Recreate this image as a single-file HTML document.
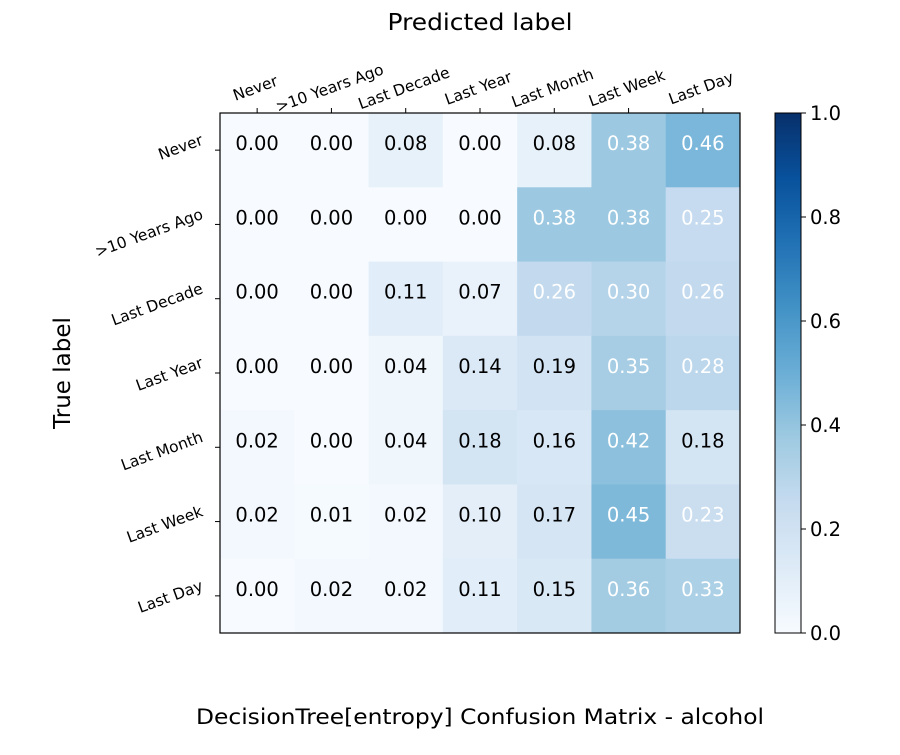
<!DOCTYPE html>
<html><head><meta charset="utf-8"><style>
body{margin:0;background:#fff;}
svg text{font-family:"DejaVu Sans","Liberation Sans",sans-serif;}
</style></head><body>
<svg id="chart" width="900" height="750" xmlns="http://www.w3.org/2000/svg"></svg>
<script>
const labels=["Never",">10 Years Ago","Last Decade","Last Year","Last Month","Last Week","Last Day"];
const row0=[0.00,0.00,0.08,0.00,0.08,0.38,0.46];
const row1=[0.00,0.00,0.00,0.00,0.38,0.38,0.25];
const row2=[0.00,0.00,0.11,0.07,0.26,0.30,0.26];
const row3=[0.00,0.00,0.04,0.14,0.19,0.35,0.28];
const row4=[0.02,0.00,0.04,0.18,0.16,0.42,0.18];
const row5=[0.02,0.01,0.02,0.10,0.17,0.45,0.23];
const row6=[0.00,0.02,0.02,0.11,0.15,0.36,0.33];
const matrix=[row0,row1,row2,row3,row4,row5,row6];
const cbTicks=[0.0,0.2,0.4,0.6,0.8,1.0];

const NS="http://www.w3.org/2000/svg";
const svg=document.getElementById('chart');
const X0=220,Y0=113,W=520,H=520,n=labels.length,cw=W/n,ch=H/n;
const xs=i=>X0+i*cw, ys=j=>Y0+j*ch;
const stops=["#f7fbff","#deebf7","#c6dbef","#9ecae1","#6baed6","#4292c6","#2171b5","#08519c","#08306b"];
function hx(c){return [1,3,5].map(k=>parseInt(c.substr(k,2),16));}
function cmap(v){v=Math.max(0,Math.min(1,v));const p=v*8,i=Math.min(7,Math.floor(p)),t=p-i;const a=hx(stops[i]),b=hx(stops[i+1]);return "rgb("+a.map((x,k)=>Math.round(x+(b[k]-x)*t)).join(",")+")";}
function el(tag,attrs,txt){const e=document.createElementNS(NS,tag);for(const k in attrs)e.setAttribute(k,attrs[k]);if(txt!==undefined)e.textContent=txt;svg.appendChild(e);return e;}
const thresh=0.2;
matrix.forEach((row,j)=>row.forEach((v,i)=>{
 const r=el('rect',{x:xs(i),y:ys(j),width:cw+0.5,height:ch+0.5,fill:cmap(v)});
 
 
 const t=el('text',{x:xs(i)+cw/2,y:ys(j)+ch/2,'text-anchor':'middle','font-size':'19.5',fill:v>thresh?'#fff':'#000'},v.toFixed(2));
 
 
}));
const fr=el('rect',{x:X0,y:Y0,width:W,height:H,fill:'none',stroke:'#000','stroke-width':1.2});


labels.forEach((l,i)=>{
 const cx=xs(i)+cw/2;
 el('line',{x1:cx,y1:Y0,x2:cx,y2:Y0-5,stroke:'#000'});
 const t=el('text',{x:0,y:0,'text-anchor':'middle','font-size':'15.5',transform:`translate(${cx},${Y0-20}) rotate(-20)`},l);
 
 
 const cy=ys(i)+ch/2;
 el('line',{x1:X0,y1:cy,x2:X0-5,y2:cy,stroke:'#000'});
 const u=el('text',{x:0,y:0,'text-anchor':'end','font-size':'15.5',transform:`translate(${X0-16},${cy-6}) rotate(-20)`},l);
 
 
});
const xt=el('text',{x:480,y:30,'text-anchor':'middle','font-size':'23',textLength:185,lengthAdjust:'spacingAndGlyphs'},'Predicted label');


const yt=el('text',{x:0,y:0,'text-anchor':'middle','font-size':'23',transform:'translate(70,373) rotate(-90)'},'True label');


const tt=el('text',{x:480,y:724,'text-anchor':'middle','font-size':'21',textLength:568,lengthAdjust:'spacingAndGlyphs','xml:space':'preserve'},'DecisionTree[entropy]  Confusion Matrix - alcohol');


// colorbar
const CX=775,CW=26;
const defs=el('defs',{});
const g=document.createElementNS(NS,'linearGradient');g.setAttribute('id','cb');g.setAttribute('x1','0');g.setAttribute('y1','1');g.setAttribute('x2','0');g.setAttribute('y2','0');
stops.forEach((s,k)=>{const st=document.createElementNS(NS,'stop');st.setAttribute('offset',k/8);st.setAttribute('stop-color',s);g.appendChild(st);});
defs.appendChild(g);
const cb=el('rect',{x:CX,y:Y0,width:CW,height:H,fill:'url(#cb)',stroke:'#000','stroke-width':1});


cbTicks.forEach(v=>{
 const y=Y0+H-v*H;
 el('line',{x1:CX+CW,y1:y,x2:CX+CW+5,y2:y,stroke:'#000'});
 const t=el('text',{x:CX+CW+9,y:y+7,'font-size':'19.5'},v.toFixed(1));
 
 
});
</script>
</body></html>
